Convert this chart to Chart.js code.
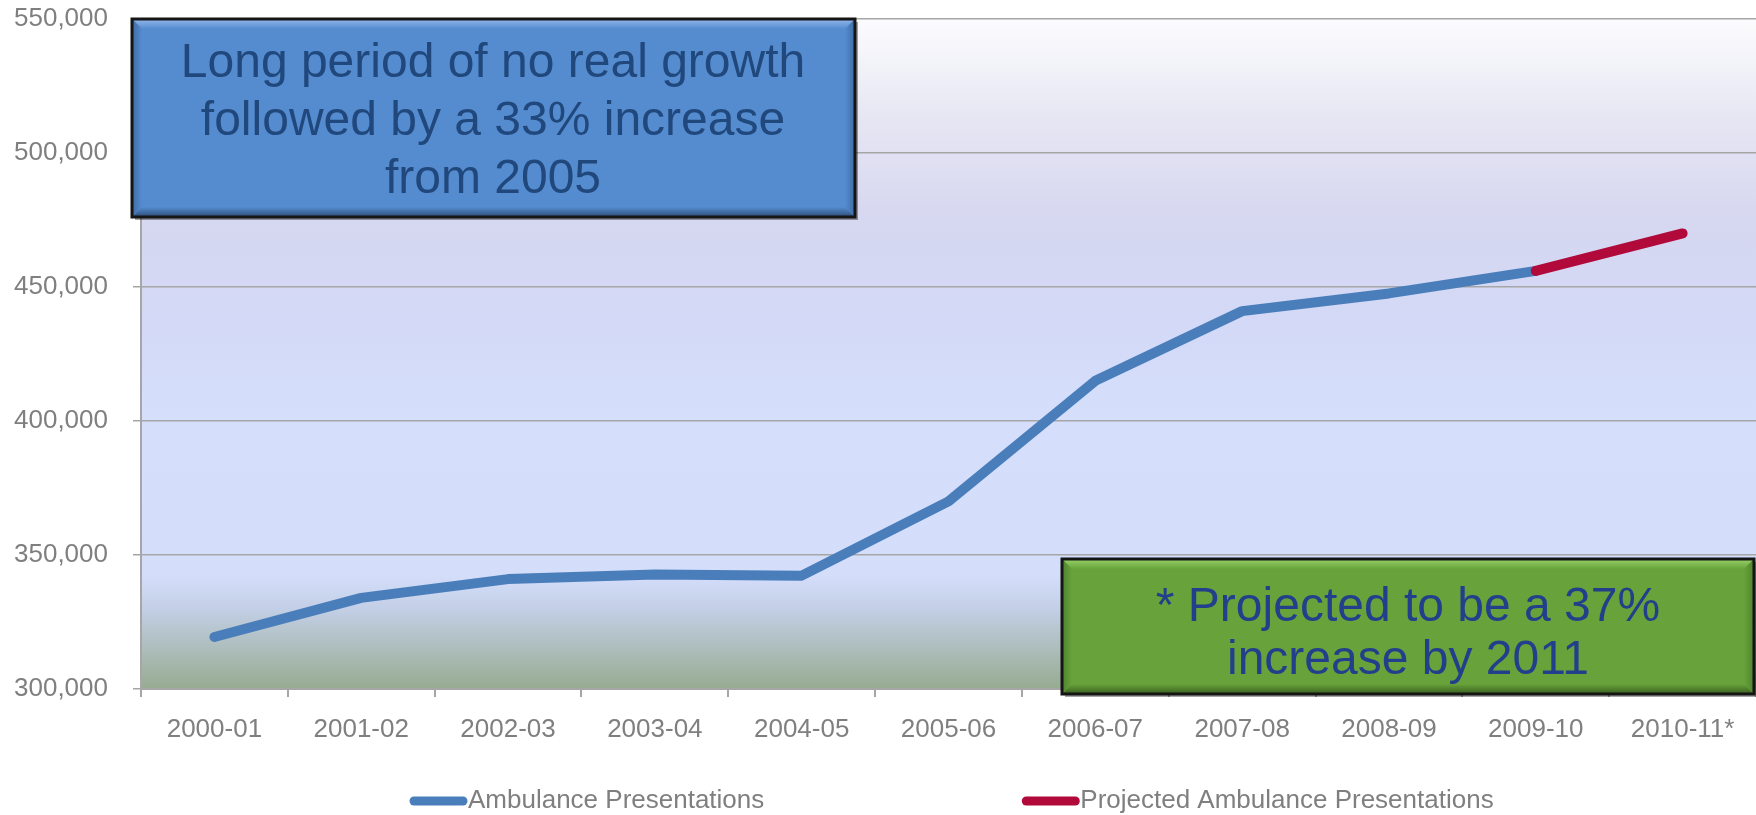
<!DOCTYPE html>
<html>
<head>
<meta charset="utf-8">
<script src="https://cdn.jsdelivr.net/npm/chart.js@4/dist/chart.umd.min.js"></script>
<style>
  html, body { margin: 0; padding: 0; background: #ffffff; }
  #wrap { width: 1756px; height: 815px; position: relative; }
</style>
</head>
<body>
<div id="wrap"><canvas id="ambulanceChart"></canvas></div>
<script>
const years = ['2000-01', '2001-02', '2002-03', '2003-04', '2004-05', '2005-06',
               '2006-07', '2007-08', '2008-09', '2009-10', '2010-11*'];
const presentations = [319400, 334000, 341000, 342700, 342300, 370000,
                       415000, 441000, 447600, 456000, null];
const projected = [null, null, null, null, null, null, null, null, null, 456000, 470000];
const yTicks = { min: 300000, max: 550000, step: 50000 };

const blueNote = ['Long period of no real growth', 'followed by a 33% increase', 'from 2005'];
const greenNote = ['* Projected to be a 37%', 'increase by 2011'];

const FONT = '"Liberation Sans", Arial, sans-serif';
const GREY = '#7f7f7f';

// plot area background, drawn before grid lines
const plotBackground = {
    id: 'plotBackground',
    beforeDraw(chart) {
        const { ctx, chartArea: a } = chart;
        const g = ctx.createLinearGradient(0, a.top, 0, a.bottom);
        g.addColorStop(0, '#fcfcfe');
        g.addColorStop(0.15, '#e6e6f3');
        g.addColorStop(0.3, '#d6d7f0');
        g.addColorStop(0.45, '#d3d9f6');
        g.addColorStop(0.6, '#d5dffc');
        g.addColorStop(0.83, '#d4defb');
        g.addColorStop(0.88, '#c3cfe6');
        g.addColorStop(1, '#97ab91');
        ctx.save();
        ctx.fillStyle = g;
        ctx.fillRect(a.left, a.top, a.right - a.left, a.bottom - a.top);
        ctx.restore();
    }
};

function bevelBox(ctx, x, y, w, h, c) {
    const b = 10;
    ctx.save();
    // shadow
    ctx.fillStyle = 'rgba(0,0,0,0.35)';
    ctx.fillRect(x + 3, y + 3, w, h);
    ctx.fillStyle = c.base;
    ctx.fillRect(x, y, w, h);
    const poly = (pts, fill) => {
        ctx.beginPath();
        ctx.moveTo(pts[0], pts[1]);
        for (let i = 2; i < pts.length; i += 2) ctx.lineTo(pts[i], pts[i + 1]);
        ctx.closePath();
        ctx.fillStyle = fill;
        ctx.fill();
    };
    let g = ctx.createLinearGradient(0, y, 0, y + b);
    g.addColorStop(0, c.light); g.addColorStop(1, c.base);
    poly([x, y, x + w, y, x + w - b, y + b, x + b, y + b], g);
    g = ctx.createLinearGradient(0, y + h - b, 0, y + h);
    g.addColorStop(0, c.base); g.addColorStop(1, c.dark);
    poly([x, y + h, x + w, y + h, x + w - b, y + h - b, x + b, y + h - b], g);
    g = ctx.createLinearGradient(x, 0, x + b, 0);
    g.addColorStop(0, c.side); g.addColorStop(1, c.base);
    poly([x, y, x + b, y + b, x + b, y + h - b, x, y + h], g);
    g = ctx.createLinearGradient(x + w - b, 0, x + w, 0);
    g.addColorStop(0, c.base); g.addColorStop(1, c.side);
    poly([x + w, y, x + w - b, y + b, x + w - b, y + h - b, x + w, y + h], g);
    ctx.lineWidth = 3;
    ctx.strokeStyle = '#151515';
    ctx.strokeRect(x, y, w, h);
    ctx.restore();
}

function noteText(ctx, lines, cx, firstY, lineH, color) {
    ctx.save();
    ctx.font = '48px ' + FONT;
    ctx.fillStyle = color;
    ctx.textAlign = 'center';
    ctx.textBaseline = 'middle';
    lines.forEach((t, i) => ctx.fillText(t, cx, firstY + i * lineH));
    ctx.restore();
}

const notes = {
    id: 'notes',
    afterDraw(chart) {
        const { ctx, chartArea: a } = chart;
        // blue text box, top left
        bevelBox(ctx, a.left - 9, a.top, 723, 198,
            { base: '#558cd0', light: '#93b8ea', dark: '#2c4c76', side: '#3e6aa3' });
        noteText(ctx, blueNote, a.left - 9 + 361, a.top + 45, 58, '#21487c');
        // green text box, bottom right
        bevelBox(ctx, a.left + 921, a.bottom - 130, 692, 135,
            { base: '#67a33a', light: '#9bd16b', dark: '#3a5e21', side: '#4f8230' });
        noteText(ctx, greenNote, a.left + 921 + 346, a.bottom - 81, 53, '#233f8c');
    }
};

// legend: line marker directly followed by its label
const lineLegend = {
    id: 'lineLegend',
    afterDraw(chart) {
        const { ctx, chartArea: a } = chart;
        const y = 801;
        let x = a.left + 268;
        ctx.save();
        ctx.font = '26px ' + FONT;
        ctx.textBaseline = 'middle';
        ctx.textAlign = 'left';
        chart.data.datasets.forEach(ds => {
            ctx.strokeStyle = ds.borderColor;
            ctx.lineWidth = 9;
            ctx.lineCap = 'round';
            ctx.beginPath();
            ctx.moveTo(x + 5, y);
            ctx.lineTo(x + 54, y);
            ctx.stroke();
            ctx.fillStyle = GREY;
            ctx.fillText(ds.label, x + 59, y);
            x += 59 + ctx.measureText(ds.label).width + 257;
        });
        ctx.restore();
    }
};

Chart.defaults.font.family = FONT;

new Chart(document.getElementById('ambulanceChart'), {
    type: 'line',
    data: {
        labels: years,
        datasets: [{
            label: 'Ambulance Presentations',
            data: presentations,
            borderColor: '#4a7ebb',
            borderWidth: 10,
            borderCapStyle: 'round',
            borderJoinStyle: 'round',
            pointRadius: 0,
            tension: 0,
            order: 2
        }, {
            label: 'Projected Ambulance Presentations',
            data: projected,
            borderColor: '#b0093a',
            borderWidth: 10,
            borderCapStyle: 'round',
            borderJoinStyle: 'round',
            pointRadius: 0,
            tension: 0,
            order: 1
        }]
    },
    options: {
        responsive: true,
        maintainAspectRatio: false,
        animation: false,
        layout: { padding: { top: 0, left: 0, right: 0, bottom: 0 } },
        plugins: {
            legend: { display: false },
            tooltip: { enabled: false }
        },
        scales: {
            x: {
                offset: true,
                grid: {
                    offset: true,
                    drawOnChartArea: false,
                    drawTicks: true,
                    tickLength: 8,
                    color: '#a6a6a6',
                    lineWidth: 2
                },
                border: { color: '#a6a6a6', width: 2 },
                ticks: { color: GREY, font: { size: 26 }, padding: 17, maxRotation: 0 },
                afterFit(s) { s.height = 126; }
            },
            y: {
                min: yTicks.min,
                max: yTicks.max,
                grid: { color: '#a6a6a6', lineWidth: 1.5, tickLength: 8 },
                border: { color: '#a6a6a6', width: 2 },
                ticks: {
                    stepSize: yTicks.step,
                    color: GREY,
                    font: { size: 26, lineHeight: 1.2 },
                    padding: 25,
                    callback: v => v.toLocaleString('en-US')
                },
                afterFit(s) {
                    s.width = 141;
                    s.paddingTop = 19;
                    s.paddingBottom = 0;
                }
            }
        }
    },
    plugins: [plotBackground, notes, lineLegend]
});
</script>
</body>
</html>
